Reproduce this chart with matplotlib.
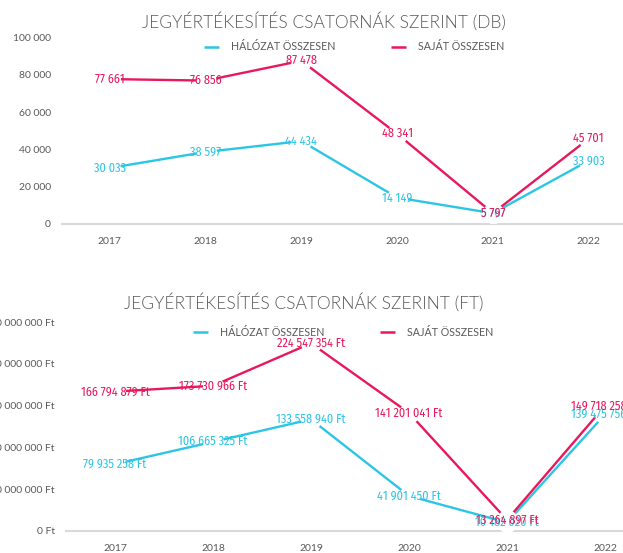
import matplotlib
matplotlib.use("Agg")
import matplotlib.pyplot as plt
from matplotlib import font_manager
from matplotlib.font_manager import FontProperties
from matplotlib.lines import Line2D

# ---------------- data ----------------
years = ["2017", "2018", "2019", "2020", "2021", "2022"]
series_names = ["HÁLÓZAT ÖSSZESEN", "SAJÁT ÖSSZESEN"]

db_halozat = [30033, 38597, 44434, 14149, 5767, 33903]
db_sajat = [77661, 76856, 87478, 48341, 5797, 45701]

ft_halozat = [79935258, 106665325, 133558940, 41901450, 10182020, 139475756]
ft_sajat = [166794879, 173730966, 224547354, 141201041, 13264897, 149718258]

db_ticks = [0, 20000, 40000, 60000, 80000, 100000]
ft_ticks = [0, 50000000, 100000000, 150000000, 200000000, 250000000]

title_db = "JEGYÉRTÉKESÍTÉS CSATORNÁK SZERINT (DB)"
title_ft = "JEGYÉRTÉKESÍTÉS CSATORNÁK SZERINT (FT)"

# ---------------- style ----------------
CYAN = "#2CC5E5"
PINK = "#E8185B"
GRAY = "#595959"
AXIS = "#D9D9D9"


def has_font(name):
    try:
        font_manager.findfont(name, fallback_to_default=False)
        return True
    except Exception:
        return False


def find_file(prefs):
    files = [f.fname for f in font_manager.fontManager.ttflist]
    for p in prefs:
        for fn in files:
            if fn.split("/")[-1].startswith(p):
                return fn
    return None


label_file = find_file(["FiraSansCondensed-Regular", "PTSansNarrow-Regular",
                        "CabinCondensed-Regular", "AsapCondensed-Regular",
                        "BarlowSemiCondensed-Regular"])
if label_file:
    LABEL_PROP = dict(fontproperties=FontProperties(fname=label_file, size=8.8))
else:
    LABEL_PROP = dict(family="Lato", fontsize=8)

UI_FONT = "Lato" if has_font("Lato") else "DejaVu Sans"
title_file = find_file(["Lato-Light."])
if title_file:
    TITLE_PROP = dict(fontproperties=FontProperties(fname=title_file, size=12.55))
else:
    TITLE_PROP = dict(family=UI_FONT, fontsize=12.4)

W, H = 623, 553
fig = plt.figure(figsize=(W / 100, H / 100), dpi=100)
fig.patch.set_facecolor("white")


def px_axes(left, top, right, bottom):
    return fig.add_axes([left / W, 1 - bottom / H, (right - left) / W, (bottom - top) / H])


def fmt(v):
    return f"{v:,.0f}".replace(",", " ")


def draw_chart(ax, s1, s2, ticks, unit, title, title_xy, legend_xy):
    x = list(range(len(years)))
    for vals, col in ((s1, CYAN), (s2, PINK)):
        ax.plot(x, vals, color=col, lw=1.7, solid_capstyle="butt", zorder=2, clip_on=False)
    for vals in (s1, s2):
        ax.plot(x, vals, ls="none", marker="o", ms=15, mfc="white", mec="none",
                zorder=3, clip_on=False)
    for vals, col in ((s1, CYAN), (s2, PINK)):
        for xi, v in zip(x, vals):
            ax.text(xi, v, fmt(v) + unit, color=col, ha="center", va="center",
                    zorder=5, clip_on=False, **LABEL_PROP)

    ax.set_xlim(-0.5, len(years) - 0.5)
    ax.set_ylim(ticks[0], ticks[-1])
    ax.set_xticks(x)
    ax.set_xticklabels(years)
    ax.set_yticks(ticks)
    ax.set_yticklabels([fmt(t) + unit for t in ticks])
    ax.tick_params(axis="both", length=0, colors=GRAY, labelsize=7.5)
    ax.tick_params(axis="y", pad=8)
    ax.tick_params(axis="x", pad=9.5)
    for lbl in ax.get_xticklabels() + ax.get_yticklabels():
        lbl.set_family(UI_FONT)
    for s in ("top", "right", "left"):
        ax.spines[s].set_visible(False)
    ax.spines["bottom"].set_color(AXIS)
    ax.spines["bottom"].set_linewidth(1.5)
    ax.patch.set_alpha(0)

    fig.text(title_xy[0] / W, 1 - title_xy[1] / H, title, ha="center", va="center",
             color=GRAY, **TITLE_PROP)

    handles = [Line2D([], [], color=CYAN, lw=1.8, dashes=(6, 5.5)),
               Line2D([], [], color=PINK, lw=1.8, dashes=(6, 5.5))]
    leg = ax.legend(handles, series_names, loc="center", ncol=2,
                    bbox_to_anchor=(legend_xy[0] / W, 1 - legend_xy[1] / H),
                    bbox_transform=fig.transFigure, frameon=False,
                    handlelength=2.3, handletextpad=0.2,
                    columnspacing=5.2, prop={"family": UI_FONT, "size": 7.7})
    for t in leg.get_texts():
        t.set_color(GRAY)


ax1 = px_axes(62, 37.4, 636.5, 224)
draw_chart(ax1, db_halozat, db_sajat, db_ticks, "", title_db, (324, 21), (354, 47))

ax2 = px_axes(66, 322, 654, 531)
draw_chart(ax2, ft_halozat, ft_sajat, ft_ticks, " Ft", title_ft, (304, 302), (343, 332))

fig.savefig("out.png", dpi=100, facecolor="white")
